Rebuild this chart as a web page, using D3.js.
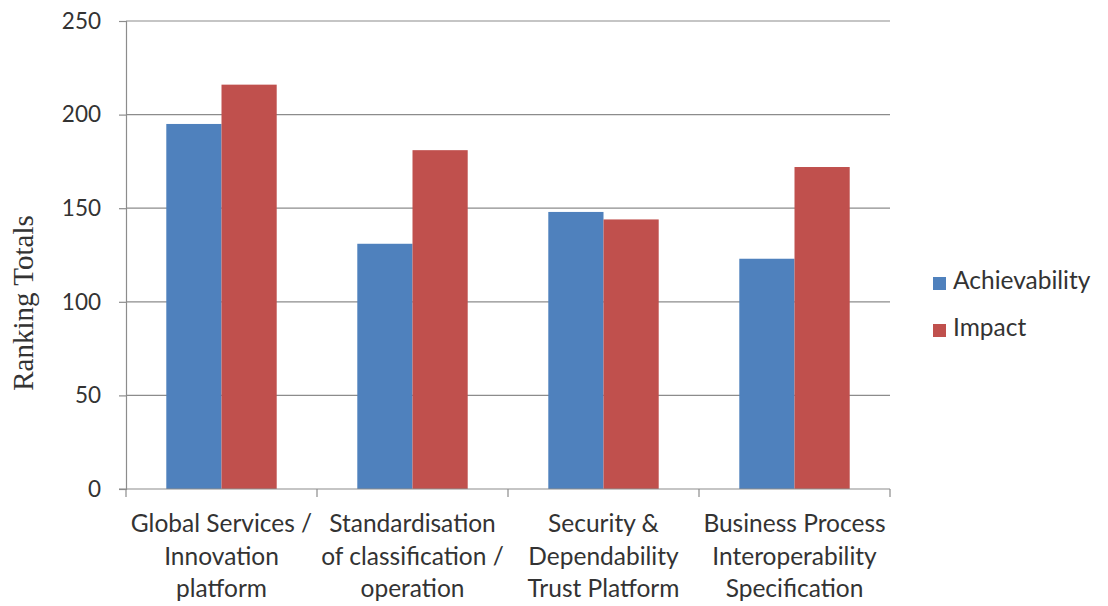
<!DOCTYPE html>
<html>
<head>
<meta charset="utf-8">
<script src="https://cdn.jsdelivr.net/npm/d3@7"></script>
<style>
  html, body { margin: 0; padding: 0; background: #fff; }
  svg { display: block; }
</style>
</head>
<body>
<svg id="chart" width="1108" height="606"></svg>
<script>
// Ranking totals per focus area
const categories = [
  ["Global Services /", "Innovation", "platform"],
  ["Standardisation", "of classification /", "operation"],
  ["Security &", "Dependability", "Trust Platform"],
  ["Business Process", "Interoperability", "Specification"]
];
const seriesNames = ["Achievability", "Impact"];
const achievability = [195, 131, 148, 123];
const impact = [216, 181, 144, 172];
const yTicks = [0, 50, 100, 150, 200, 250];
const colors = ["#4F81BD", "#C0504D"];

const svg = d3.select("#chart");
const margin = { left: 126, right: 218, top: 21, bottom: 117 };
const W = 1108, H = 606;
const plotW = W - margin.left - margin.right;
const plotH = H - margin.top - margin.bottom;
const font = "Lato, 'Open Sans', sans-serif";
const textColor = "#333";
const axisColor = "#8c8c8c";

const x0 = d3.scaleBand().domain(d3.range(categories.length)).range([0, plotW]).paddingInner(0).paddingOuter(0);
const x1 = d3.scaleBand().domain(d3.range(seriesNames.length)).range([0, x0.bandwidth()]).paddingInner(0).paddingOuter(0.73);
const y = d3.scaleLinear().domain([0, 250]).range([plotH, 0]);

const g = svg.append("g").attr("transform", `translate(${margin.left},${margin.top})`);

// horizontal gridlines
g.append("g").selectAll("line").data(yTicks.filter(d => d > 0)).join("line")
  .attr("x1", 0).attr("x2", plotW)
  .attr("y1", d => y(d)).attr("y2", d => y(d))
  .attr("stroke", axisColor).attr("stroke-width", 1.2);

// clustered bars
const rows = categories.map((c, i) => [achievability[i], impact[i]]);
const groups = g.append("g").selectAll("g").data(rows).join("g")
  .attr("transform", (d, i) => `translate(${x0(i)},0)`);
groups.selectAll("rect").data(d => d).join("rect")
  .attr("x", (d, j) => x1(j))
  .attr("width", x1.bandwidth())
  .attr("y", d => y(d))
  .attr("height", d => plotH - y(d))
  .attr("fill", (d, j) => colors[j]);

// y axis
const yAxis = g.append("g").call(d3.axisLeft(y).tickValues(yTicks).tickSize(7).tickPadding(18).tickFormat(d3.format("d")));
yAxis.select(".domain").attr("stroke", axisColor).attr("stroke-width", 1.2);
yAxis.selectAll(".tick line").attr("stroke", axisColor).attr("stroke-width", 1.2);
yAxis.selectAll(".tick text").attr("font-family", font).attr("font-size", 22.5).attr("fill", textColor);

// x axis with ticks at category boundaries
const xAxisG = g.append("g").attr("transform", `translate(0,${plotH})`);
xAxisG.append("line").attr("x1", -7).attr("x2", plotW).attr("y1", 0).attr("y2", 0)
  .attr("stroke", axisColor).attr("stroke-width", 1.2);
const boundaries = d3.range(categories.length + 1).map(i => i === categories.length ? plotW : x0(i));
xAxisG.selectAll("line.tk").data(boundaries).join("line").attr("class", "tk")
  .attr("x1", d => d).attr("x2", d => d).attr("y1", 0).attr("y2", 8)
  .attr("stroke", axisColor).attr("stroke-width", 1.2);

const labels = xAxisG.selectAll("text.cat").data(categories).join("text").attr("class", "cat")
  .attr("text-anchor", "middle")
  .attr("font-family", font).attr("font-size", 24.5).attr("fill", textColor);
labels.selectAll("tspan").data((d, i) => d.map(t => ({ t, i }))).join("tspan")
  .attr("x", d => x0(d.i) + x0.bandwidth() / 2)
  .attr("y", (d, k) => 43 + k * 32.5)
  .text(d => d.t);

// y axis title
svg.append("text")
  .attr("transform", `translate(33,303) rotate(-90)`)
  .attr("text-anchor", "middle")
  .attr("font-family", "'Liberation Serif', 'Times New Roman', serif")
  .attr("font-size", 29).attr("fill", textColor)
  .text("Ranking Totals");

// legend
const legend = svg.append("g").attr("transform", "translate(933,277)");
const items = legend.selectAll("g").data(seriesNames).join("g")
  .attr("transform", (d, i) => `translate(0,${i * 47})`);
items.append("rect").attr("x", 0).attr("y", 0).attr("width", 13).attr("height", 13)
  .attr("fill", (d, i) => colors[i]);
items.append("text").attr("x", 20).attr("y", 12)
  .attr("font-family", font).attr("font-size", 24.5).attr("fill", textColor)
  .text(d => d);
</script>
</body>
</html>
